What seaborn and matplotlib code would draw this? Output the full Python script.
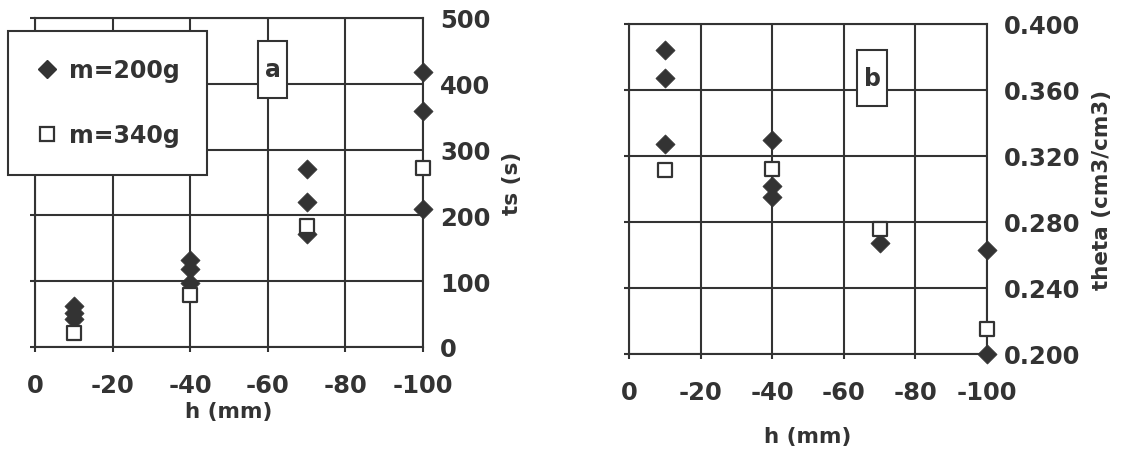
import matplotlib
matplotlib.use("Agg")
import matplotlib.pyplot as plt
import seaborn as sns
import pandas as pd
from matplotlib.lines import Line2D
from matplotlib.patches import Rectangle

sns.set_theme(style="white")
plt.rcParams['font.family'] = ['DejaVu Sans']
plt.rcParams['font.weight'] = 'bold'

INK = '#333333'

# ---- data: panel a (ts, s) ----
a_h_200 = [-10, -10, -10, -40, -40, -40, -70, -70, -70, -100, -100, -100]
a_ts_200 = [62, 52, 42, 132, 118, 97, 270, 221, 171, 418, 358, 210]
a_h_340 = [-10, -40, -70, -100]
a_ts_340 = [21, 79, 184, 272]

# ---- data: panel b (theta, cm3/cm3) ----
b_h_200 = [-10, -10, -10, -40, -40, -40, -70, -100, -100]
b_th_200 = [0.384, 0.367, 0.327, 0.330, 0.302, 0.295, 0.2675, 0.263, 0.200]
b_h_340 = [-10, -40, -70, -100]
b_th_340 = [0.3115, 0.312, 0.2756, 0.215]

x_ticks = [0, -20, -40, -60, -80, -100]
a_yticks = [0, 100, 200, 300, 400, 500]
b_yticks = [0.200, 0.240, 0.280, 0.320, 0.360, 0.400]
series_labels = ['m=200g', 'm=340g']

W, H = 1121, 452
fig = plt.figure(figsize=(W / 100, H / 100), dpi=100)
fig.patch.set_facecolor('white')

def px_axes(l, t, r, b):
    return fig.add_axes([l / W, 1 - b / H, (r - l) / W, (b - t) / H])

ax1 = px_axes(35, 19, 423, 348)
ax2 = px_axes(629, 25, 987, 355)

TICK_FS = 17.5
LAB_FS = 15.5

def draw(ax, h200, y200, h340, y340, yticks, ylabel, fmt, xlabelpad, ylabelpad):
    d200 = pd.DataFrame({'h': h200, 'y': y200})
    d340 = pd.DataFrame({'h': h340, 'y': y340})
    sns.scatterplot(data=d200, x='h', y='y', ax=ax, marker='D', s=95,
                    color=INK, edgecolor=INK, linewidth=0.5, zorder=4, clip_on=False)
    sns.scatterplot(data=d340, x='h', y='y', ax=ax, marker='s', s=115,
                    color='white', edgecolor=INK, linewidth=1.6, zorder=5, clip_on=False)
    ax.set_xlim(0, -100)
    ax.set_ylim(yticks[0], yticks[-1])
    ax.set_xticks(x_ticks)
    ax.set_xticklabels([str(v) for v in x_ticks])
    ax.set_yticks(yticks)
    ax.set_yticklabels([fmt(v) for v in yticks])
    ax.grid(True, color=INK, linewidth=1.5)
    ax.set_axisbelow(True)
    for s in ax.spines.values():
        s.set_visible(True)
        s.set_color(INK)
        s.set_linewidth(1.5)
    ax.tick_params(axis='y', left=True, right=False, labelleft=False, labelright=True,
                   length=3.5, width=1.5, color=INK, labelsize=TICK_FS, labelcolor=INK, pad=9)
    ax.tick_params(axis='x', bottom=True, length=3.5, width=1.5, color=INK,
                   labelsize=TICK_FS, labelcolor=INK, pad=15)
    for lab in ax.get_xticklabels() + ax.get_yticklabels():
        lab.set_fontweight('bold')
    ax.yaxis.set_label_position('right')
    ax.set_ylabel(ylabel, fontsize=LAB_FS, fontweight='bold', color=INK, labelpad=ylabelpad)
    ax.set_xlabel('h (mm)', fontsize=LAB_FS, fontweight='bold', color=INK, labelpad=xlabelpad)

draw(ax1, a_h_200, a_ts_200, a_h_340, a_ts_340, a_yticks, 'ts (s)',
     lambda v: f'{v:d}', 3, 8)
draw(ax2, b_h_200, b_th_200, b_h_340, b_th_340, b_yticks, 'theta (cm3/cm3)',
     lambda v: f'{v:.3f}', 16, 8)

# legend
handles = [
    Line2D([], [], marker='D', linestyle='none', markersize=9, markerfacecolor=INK,
           markeredgecolor=INK),
    Line2D([], [], marker='s', linestyle='none', markersize=10.5, markerfacecolor='white',
           markeredgecolor=INK, markeredgewidth=1.6),
]
leg = ax1.legend(handles, series_labels, loc='upper left',
                 bbox_to_anchor=(8 / W, 1 - 32 / H), bbox_transform=fig.transFigure,
                 frameon=True, fancybox=False, framealpha=1, edgecolor=INK,
                 prop={'weight': 'bold', 'size': 17}, labelspacing=1.75,
                 borderpad=1.15, handletextpad=0.45, handlelength=1.0, borderaxespad=0)
leg.get_frame().set_linewidth(1.5)
for t in leg.get_texts():
    t.set_color(INK)
leg.set_zorder(10)

# panel letter boxes (pixel geometry of the annotation boxes)
def letter_box(letter, l, t, r, b):
    fig.patches.append(Rectangle((l / W, 1 - b / H), (r - l) / W, (b - t) / H,
                                 transform=fig.transFigure, fc='white', ec=INK,
                                 lw=1.5, zorder=8))
    fig.text((l + r) / 2 / W, 1 - (t + b) / 2 / H, letter, ha='center', va='center',
             fontsize=17, fontweight='bold', color=INK, zorder=9)

letter_box('a', 258, 42, 287, 99)
letter_box('b', 857, 51, 887, 107)

fig.savefig('out.png', dpi=100, facecolor='white')
